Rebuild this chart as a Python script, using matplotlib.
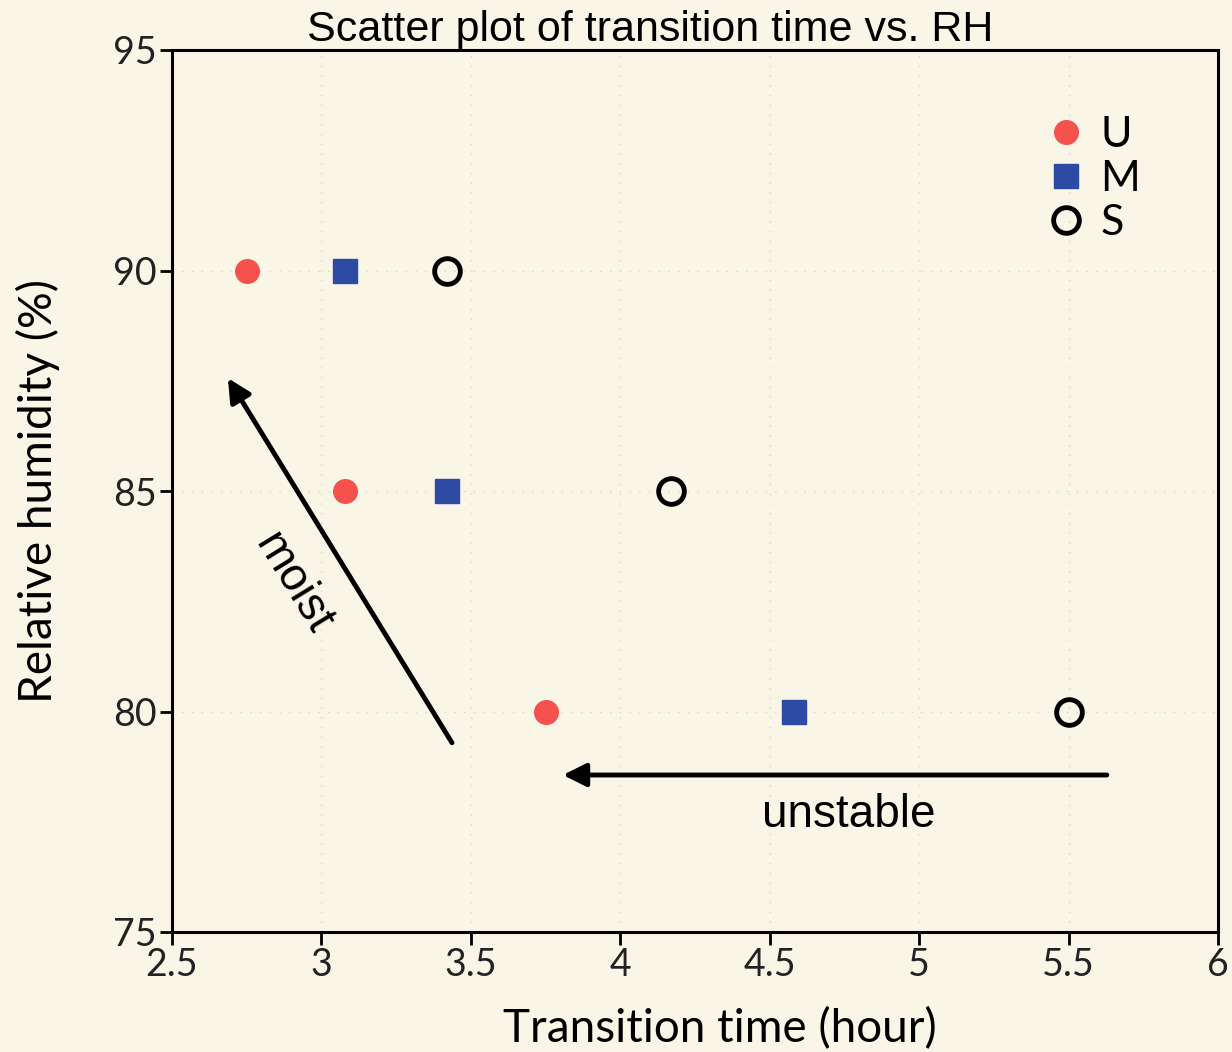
import matplotlib.pyplot as plt
import matplotlib.ticker as mticker

# transition time (hour) at each relative humidity
rh = [90, 85, 80]
time_u = [2.75, 3.08, 3.75]
time_m = [3.08, 3.42, 4.58]
time_s = [3.42, 4.17, 5.5]

bg = "#faf6e7"
label_font = ["Lato", "DejaVu Sans"]
plain_font = ["Liberation Sans", "DejaVu Sans"]

fig = plt.figure(figsize=(12.32, 10.52), dpi=100, facecolor=bg)
ax = fig.add_axes([172 / 1232, 1 - 932 / 1052, (1218 - 172) / 1232, (932 - 50) / 1052])
ax.set_facecolor(bg)

ax.plot(time_u, rh, "o", color="#f5524e", markersize=17, label="U", zorder=3)
ax.plot(time_m, rh, "s", color="#2d4ba3", markersize=17, label="M", zorder=3)
ax.plot(time_s, rh, "o", markerfacecolor="none", markeredgecolor="black",
        markeredgewidth=3.5, markersize=18.5, label="S", zorder=3)

ax.set_xlim(2.5, 6)
ax.set_ylim(75, 95)
ax.xaxis.set_major_locator(mticker.MultipleLocator(0.5))
ax.yaxis.set_major_locator(mticker.MultipleLocator(5))
ax.xaxis.set_major_formatter(mticker.FuncFormatter(lambda v, p: ("%g" % v)))
ax.grid(True, color="#dcd8ca", linestyle=(0, (1, 6)), linewidth=1)

for s in ax.spines.values():
    s.set_linewidth(2.2)
ax.tick_params(direction="out", length=9, width=2, pad=2)
for lab in ax.get_xticklabels() + ax.get_yticklabels():
    lab.set_family(label_font)
    lab.set_fontsize(27)
    lab.set_color("#222222")

ax.set_xlabel("Transition time (hour)", family=label_font, fontsize=33, labelpad=18)
ax.xaxis.set_label_coords(0.524, -0.085)
ax.set_ylabel("Relative humidity (%)", family=label_font, fontsize=33, labelpad=38)
ax.text(0.457, 1.0, "Scatter plot of transition time vs. RH", transform=ax.transAxes,
        family=plain_font, fontsize=31, ha="center", va="bottom")

# arrows and labels
ax.annotate("", xy=(2.687, 87.56), xytext=(3.437, 79.29),
            arrowprops=dict(arrowstyle="-|>", color="black", lw=3.5,
                            mutation_scale=35, shrinkA=0, shrinkB=0))
ax.annotate("", xy=(3.808, 78.56), xytext=(5.628, 78.56),
            arrowprops=dict(arrowstyle="-|>", color="black", lw=3.5,
                            mutation_scale=35, shrinkA=0, shrinkB=0))
ax.text(4.765, 77.65, "unstable", family=plain_font, fontsize=33,
        ha="center", va="center")
ax.text(2.905, 82.9, "moist", family=plain_font, fontsize=33,
        ha="center", va="center", rotation=-58.5)

leg = ax.legend(loc="upper right", bbox_to_anchor=(0.979, 0.989), frameon=False,
                handletextpad=0.0, labelspacing=0.14, borderaxespad=0.9,
                markerscale=1.0, handlelength=1.6,
                prop={"family": label_font, "size": 31})

fig.savefig("out.png", dpi=100, facecolor=bg)
